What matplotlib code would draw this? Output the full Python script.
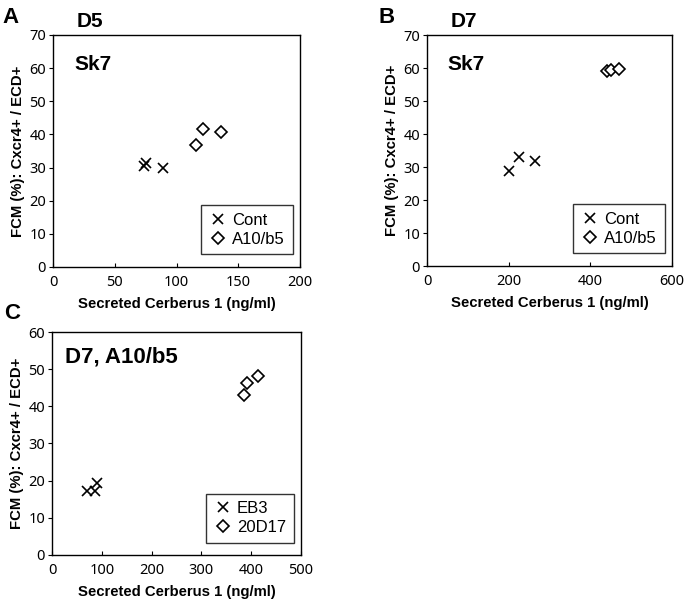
import matplotlib
matplotlib.use("Agg")
import matplotlib.pyplot as plt

# panel A: D5, Sk7
a_cont_x = [73.7, 75.0, 89.3]
a_cont_y = [30.6, 31.3, 29.8]
a_a10_x = [115.8, 121.2, 136.0]
a_a10_y = [36.8, 41.7, 40.6]

# panel B: D7, Sk7
b_cont_x = [200.8, 224.5, 264.5]
b_cont_y = [28.9, 33.1, 31.9]
b_a10_x = [440.0, 452.0, 471.0]
b_a10_y = [59.1, 59.4, 59.8]

# panel C: D7, A10/b5
c_eb3_x = [70.9, 86.3, 91.0]
c_eb3_y = [17.2, 17.2, 19.5]
c_20d17_x = [386.0, 391.6, 414.3]
c_20d17_y = [43.0, 46.2, 48.2]

xlabel = "Secreted Cerberus 1 (ng/ml)"
ylabel = "FCM (%): Cxcr4+ / ECD+"

lab_font = "Liberation Sans"
tick_font = "Noto Sans"

fig = plt.figure(figsize=(6.86, 6.02), dpi=100)


def draw_panel(rect, x1, y1, x2, y2, names, xlim, xticks, ylim, yticks,
               inner, inner_pos, inner_size):
    ax = fig.add_axes(rect)
    ax.plot(x1, y1, linestyle="none", marker="x", color="black",
            markersize=7.5, markeredgewidth=1.2, label=names[0])
    ax.plot(x2, y2, linestyle="none", marker="D", markerfacecolor="white",
            markeredgecolor="black", markersize=6.5, markeredgewidth=1.2,
            label=names[1])
    ax.set_xlim(xlim)
    ax.set_ylim(ylim)
    ax.set_xticks(xticks)
    ax.set_yticks(yticks)
    ax.tick_params(axis="x", direction="in", length=3, labelsize=10.5, pad=6)
    ax.tick_params(axis="y", direction="out", length=3, labelsize=10.5, pad=2)
    for t in ax.get_xticklabels() + ax.get_yticklabels():
        t.set_fontfamily(tick_font)
    for s in ax.spines.values():
        s.set_linewidth(1.0)
    ax.set_xlabel(xlabel, fontfamily=lab_font, fontweight="bold",
                  fontsize=10.7, labelpad=5)
    ax.set_ylabel(ylabel, fontfamily=lab_font, fontweight="bold",
                  fontsize=10.7, labelpad=3)
    ax.text(inner_pos[0], inner_pos[1], inner, transform=ax.transAxes,
            fontfamily=lab_font, fontweight="bold", fontsize=inner_size,
            va="top", ha="left")
    leg = ax.legend(loc="lower right", bbox_to_anchor=(0.97, 0.055),
                    frameon=True, fancybox=False, edgecolor="black",
                    handletextpad=0.3, handlelength=1.1, borderpad=0.45,
                    labelspacing=0.25, borderaxespad=0,
                    prop={"family": lab_font, "size": 12})
    leg.get_frame().set_linewidth(1.0)
    return ax


draw_panel([0.0773, 0.5565, 0.360, 0.3854], a_cont_x, a_cont_y, a_a10_x, a_a10_y,
           ["Cont", "A10/b5"], (0, 200), [0, 50, 100, 150, 200],
           (0, 70), range(0, 71, 10), "Sk7", (0.085, 0.915), 15)
draw_panel([0.6224, 0.5581, 0.357, 0.3837], b_cont_x, b_cont_y, b_a10_x, b_a10_y,
           ["Cont", "A10/b5"], (0, 600), [0, 200, 400, 600],
           (0, 70), range(0, 71, 10), "Sk7", (0.085, 0.915), 15)
draw_panel([0.0758, 0.0781, 0.363, 0.3704], c_eb3_x, c_eb3_y, c_20d17_x, c_20d17_y,
           ["EB3", "20D17"], (0, 500), [0, 100, 200, 300, 400, 500],
           (0, 60), range(0, 61, 10), "D7, A10/b5", (0.052, 0.935), 16)

# panel letters and day titles
big = dict(fontfamily=lab_font, fontweight="bold", va="top", ha="left")
fig.text(2 / 686, 1 - 7 / 602, "A", fontsize=16, **big)
fig.text(77 / 686, 1 - 12 / 602, "D5", fontsize=15, **big)
fig.text(379 / 686, 1 - 7 / 602, "B", fontsize=16, **big)
fig.text(451 / 686, 1 - 12 / 602, "D7", fontsize=15, **big)
fig.text(4 / 686, 1 - 303 / 602, "C", fontsize=16, **big)

fig.savefig("out.png", dpi=100)
